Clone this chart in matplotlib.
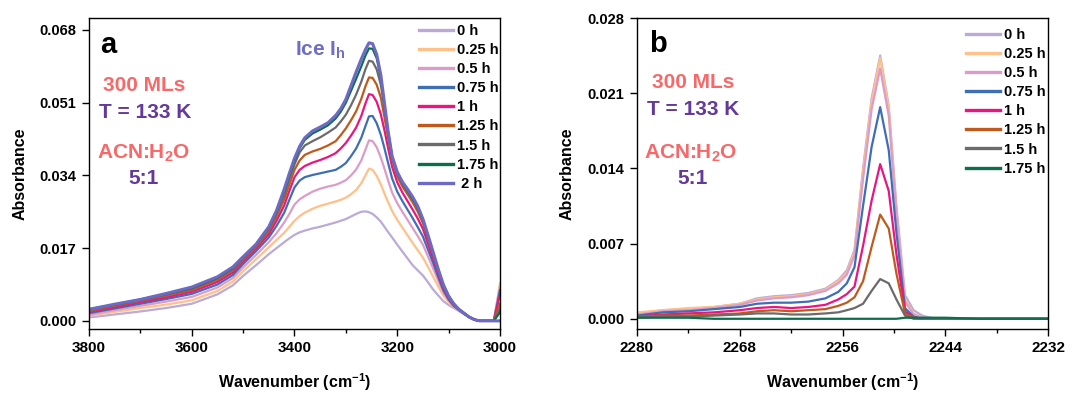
import matplotlib
matplotlib.use("Agg")
import matplotlib.pyplot as plt
import numpy as np

plt.rcParams['font.family'] = ['Liberation Sans', 'DejaVu Sans']
plt.rcParams['font.weight'] = 'bold'
plt.rcParams['axes.labelweight'] = 'bold'
plt.rcParams['mathtext.fontset'] = 'custom'
plt.rcParams['mathtext.rm'] = 'Liberation Sans:bold'
plt.rcParams['mathtext.it'] = 'Liberation Sans:bold'
plt.rcParams['mathtext.bf'] = 'Liberation Sans:bold'
plt.rcParams['mathtext.default'] = 'rm'

# ---------------- Panel a data (OH stretch region), absorbance x 1e-3 ----------------
wn_a = [3800, 3750, 3700, 3650, 3600, 3550, 3520, 3500, 3475, 3450, 3435, 3420, 3410,
        3400, 3390, 3380, 3365, 3350, 3335, 3320, 3310, 3300, 3290, 3280, 3270, 3262,
        3255, 3248, 3240, 3232, 3225, 3218, 3210, 3200, 3190, 3180, 3170, 3160, 3150,
        3140, 3130, 3120, 3110, 3100, 3090, 3080, 3070, 3060, 3050, 3040, 3012, 3006, 3000]
labels_a = ['0 h', '0.25 h', '0.5 h', '0.75 h', '1 h', '1.25 h', '1.5 h', '1.75 h', ' 2 h']
a_0h = [0.8, 1.5, 2.2, 3.0, 4.0, 6.2, 8.3, 10.5, 13.0, 15.6, 17.0, 18.4, 19.3,
        20.1, 20.7, 21.1, 21.6, 22.0, 22.5, 23.0, 23.4, 23.8, 24.4, 25.0, 25.5, 25.6,
        25.4, 25.0, 24.2, 23.2, 22.0, 20.8, 19.5, 17.8, 16.2, 14.6, 13.0, 11.8, 10.6,
        9.0, 7.3, 5.9, 4.6, 3.7, 3.0, 2.3, 1.6, 0.8, 0.3, 0.0, 0.0, 4.1, 8.3]
a_025h = [1.2, 2.1, 3.0, 3.8, 4.8, 7.0, 9.2, 11.6, 14.4, 17.2, 18.9, 20.6, 22.0,
          23.4, 24.5, 25.3, 26.2, 26.9, 27.4, 27.9, 28.3, 28.8, 29.6, 30.6, 32.2, 34.0,
          35.6, 35.3, 33.9, 31.9, 29.8, 27.8, 25.7, 23.6, 21.8, 20.0, 18.2, 16.5, 14.8,
          12.6, 10.3, 8.0, 5.9, 4.4, 3.3, 2.5, 1.7, 0.9, 0.3, 0.0, 0.0, 4.4, 8.8]
a_05h = [1.4, 2.5, 3.5, 4.5, 5.6, 7.8, 10.0, 12.5, 15.4, 18.4, 20.5, 23.0, 25.0,
         27.2, 28.4, 29.2, 30.2, 30.9, 31.4, 31.8, 32.3, 32.9, 34.0, 35.4, 37.5, 40.0,
         42.2, 42.0, 40.6, 38.2, 35.6, 32.9, 30.0, 27.5, 25.5, 23.6, 21.7, 19.8, 17.8,
         15.0, 12.2, 9.3, 6.6, 4.8, 3.4, 2.5, 1.7, 0.9, 0.3, 0.0, 0.0, 3.9, 7.8]
a_075h = [1.8, 2.9, 4.0, 5.1, 6.3, 8.5, 10.7, 13.3, 16.3, 19.5, 22.2, 25.3, 28.3,
          31.2, 32.8, 33.6, 34.1, 34.5, 34.9, 35.3, 36.0, 36.9, 38.5, 40.3, 42.8, 45.5,
          47.8, 47.9, 46.2, 43.5, 40.4, 37.0, 33.3, 30.2, 28.0, 26.0, 24.0, 21.9, 19.7,
          16.6, 13.5, 10.2, 7.1, 5.0, 3.5, 2.6, 1.7, 0.9, 0.3, 0.0, 0.0, 3.6, 7.2]
a_1h = [2.1, 3.2, 4.4, 5.5, 6.8, 9.1, 11.3, 13.9, 16.9, 20.3, 23.4, 27.0, 30.4,
        33.6, 35.3, 36.2, 37.0, 37.6, 38.3, 39.2, 40.3, 41.6, 43.3, 45.2, 47.9, 50.8,
        53.0, 52.8, 51.2, 48.3, 44.6, 40.5, 36.0, 32.4, 30.0, 28.0, 26.0, 23.9, 21.5,
        18.0, 14.6, 10.9, 7.6, 5.3, 3.7, 2.6, 1.7, 0.9, 0.3, 0.0, 0.0, 3.1, 6.2]
a_125h = [2.3, 3.5, 4.7, 5.9, 7.2, 9.6, 11.8, 14.3, 17.3, 21.0, 24.4, 28.4, 31.9,
          35.3, 37.5, 38.8, 39.6, 40.2, 41.0, 42.0, 43.4, 45.0, 46.9, 49.0, 51.9, 54.8,
          56.9, 56.8, 55.2, 52.2, 47.7, 42.8, 37.6, 33.8, 31.4, 29.6, 27.7, 25.5, 22.8,
          19.2, 15.5, 11.5, 8.1, 5.6, 3.8, 2.7, 1.8, 0.9, 0.3, 0.0, 0.0, 2.0, 4.0]
a_15h = [2.5, 3.7, 4.8, 6.1, 7.5, 9.9, 12.1, 14.6, 17.6, 21.5, 25.1, 29.6, 33.2,
         36.6, 39.4, 41.0, 42.0, 42.9, 44.0, 45.2, 46.6, 48.2, 50.4, 52.9, 55.9, 58.8,
         60.8, 60.6, 58.8, 55.2, 49.8, 44.0, 38.2, 34.4, 32.0, 30.2, 28.3, 26.2, 23.3,
         19.6, 15.8, 11.8, 8.2, 5.7, 3.9, 2.7, 1.8, 0.9, 0.3, 0.0, 0.0, 1.4, 2.8]
a_175h = [2.7, 3.8, 5.0, 6.3, 7.7, 10.1, 12.4, 14.9, 17.8, 21.9, 25.6, 30.4, 34.0,
          37.5, 40.4, 42.3, 43.8, 44.7, 45.7, 47.3, 48.9, 51.0, 53.8, 56.6, 59.5, 62.0,
          63.7, 63.6, 61.4, 56.8, 50.5, 44.3, 38.4, 34.7, 32.3, 30.6, 28.7, 26.5, 23.6,
          19.8, 15.9, 11.9, 8.3, 5.8, 4.0, 2.7, 1.8, 0.9, 0.3, 0.0, 0.0, 1.0, 2.0]
a_2h = [2.7, 3.9, 5.0, 6.4, 7.9, 10.3, 12.6, 15.0, 17.9, 22.0, 25.8, 30.8, 34.5,
        38.0, 40.8, 42.8, 44.4, 45.3, 46.3, 48.0, 49.6, 51.8, 55.0, 58.2, 61.2, 63.4,
        65.0, 64.8, 62.3, 57.5, 51.0, 44.5, 38.5, 34.8, 32.5, 30.8, 29.0, 26.8, 23.8,
        20.0, 16.0, 12.0, 8.4, 5.8, 4.0, 2.7, 1.8, 0.9, 0.3, 0.0, 0.0, 0.0, 0.0]
series_a = [a_0h, a_025h, a_05h, a_075h, a_1h, a_125h, a_15h, a_175h, a_2h]

# ---------------- Panel b data (CN stretch region), absorbance x 1e-3 ----------------
wn_b = [2280, 2277, 2274, 2271, 2268, 2266, 2264, 2262, 2260, 2258, 2256.5, 2255.5,
        2254.6, 2253.6, 2252.6, 2251.6, 2250.6, 2249.7, 2248.7, 2247.7, 2246.7, 2245.7,
        2244, 2240, 2236, 2232]
labels_b = ['0 h', '0.25 h', '0.5 h', '0.75 h', '1 h', '1.25 h', '1.5 h', '1.75 h']
b_0h = [0.5, 0.8, 0.9, 1.1, 1.4, 1.9, 2.1, 2.2, 2.4, 2.8, 3.6, 4.5,
        6.4, 14.0, 20.5, 24.5, 19.8, 10.5, 2.2, 0.8, 0.3, 0.1,
        0.0, 0.0, 0.0, 0.0]
b_025h = [0.6, 0.8, 1.0, 1.1, 1.4, 1.8, 2.0, 2.1, 2.3, 2.7, 3.5, 4.3,
          6.2, 13.7, 20.2, 24.3, 19.6, 10.0, 1.8, 0.5, 0.1, 0.0,
          0.0, 0.0, 0.0, 0.0]
b_05h = [0.4, 0.7, 0.8, 1.0, 1.3, 1.7, 1.9, 2.0, 2.2, 2.6, 3.3, 4.1,
         5.9, 13.0, 19.5, 23.3, 18.9, 9.7, 1.6, 0.4, 0.1, 0.0,
         0.0, 0.0, 0.0, 0.0]
b_075h = [0.3, 0.6, 0.7, 0.9, 1.1, 1.4, 1.5, 1.5, 1.6, 1.9, 2.5, 3.3,
          4.8, 10.5, 16.0, 19.7, 15.7, 8.0, 1.0, 0.2, 0.0, 0.0,
          0.0, 0.0, 0.0, 0.0]
b_1h = [0.2, 0.4, 0.5, 0.6, 0.8, 1.0, 1.1, 1.0, 1.1, 1.3, 1.8, 2.3,
        3.0, 6.8, 11.0, 14.4, 11.9, 6.0, 0.7, 0.1, 0.0, 0.0,
        0.0, 0.0, 0.0, 0.0]
b_125h = [0.2, 0.3, 0.3, 0.4, 0.5, 0.7, 0.8, 0.7, 0.8, 0.9, 1.2, 1.5,
          2.0, 3.5, 6.7, 9.7, 8.4, 4.2, 0.5, 0.1, 0.0, 0.0,
          0.0, 0.0, 0.0, 0.0]
b_15h = [0.1, 0.2, 0.2, 0.3, 0.4, 0.5, 0.5, 0.4, 0.4, 0.5, 0.6, 0.8,
         1.0, 1.4, 2.6, 3.7, 3.3, 1.8, 0.3, 0.0, 0.0, 0.0,
         0.0, 0.0, 0.0, 0.0]
b_175h = [0.1, 0.1, 0.1, 0.0, 0.0, 0.0, 0.0, 0.0, 0.0, 0.0, 0.0, 0.0,
          0.0, 0.0, 0.0, 0.0, 0.0, 0.0, 0.1, 0.1, 0.1, 0.1,
          0.1, 0.0, 0.0, 0.0]
series_b = [b_0h, b_025h, b_05h, b_075h, b_1h, b_125h, b_15h, b_175h]

colors = ['#bcaad6', '#ffc08a', '#dc9cc8', '#3e6eb6', '#ec1480', '#c05a1c',
          '#6b6b6b', '#0d6e4e', '#6c6ac4']

yt_a = [0.000, 0.017, 0.034, 0.051, 0.068]
yt_b = [0.000, 0.007, 0.014, 0.021, 0.028]
xt_a = [3800, 3600, 3400, 3200, 3000]
xt_b = [2280, 2268, 2256, 2244, 2232]

W, H = 1089, 394
fig = plt.figure(figsize=(W / 100, H / 100), dpi=100)

def box(l, t, r, b):
    return [l / W, 1 - b / H, (r - l) / W, (b - t) / H]

axA = fig.add_axes(box(89, 18, 500, 329))
axB = fig.add_axes(box(637, 18, 1048, 329))

for i, (s, lab) in enumerate(zip(series_a, labels_a)):
    lw = 2.2 if i == 8 else 1.6
    axA.plot(wn_a, np.array(s) / 1000.0, color=colors[i], lw=lw, label=lab)
for i, (s, lab) in enumerate(zip(series_b, labels_b)):
    axB.plot(wn_b, np.array(s) / 1000.0, color=colors[i], lw=1.6, label=lab)

axA.set_xlim(3800, 3000)
axA.set_ylim(-0.0019, 0.0708)
axB.set_xlim(2280, 2232)
axB.set_ylim(-0.00095, 0.028)

axA.set_xticks(xt_a)
axA.set_xticks(np.arange(3000, 3801, 100), minor=True)
axA.set_yticks(yt_a)
axB.set_xticks(xt_b)
axB.set_xticks(np.arange(2232, 2281, 6), minor=True)
axB.set_yticks(yt_b)

for ax in (axA, axB):
    ax.yaxis.set_major_formatter(matplotlib.ticker.FormatStrFormatter('%.3f'))
    ax.tick_params(axis='both', which='major', direction='out', length=5, width=1.0, pad=4)
    ax.tick_params(axis='x', which='major', labelsize=11)
    ax.tick_params(axis='y', which='major', labelsize=10.5)
    ax.tick_params(axis='x', which='minor', direction='out', length=3, width=1.0)
    ax.tick_params(axis='y', which='minor', left=False)
    for lab in ax.get_xticklabels() + ax.get_yticklabels():
        lab.set_fontweight('bold')
    for sp in ax.spines.values():
        sp.set_linewidth(1.0)
    ax.set_ylabel('Absorbance', fontsize=11.5, fontweight='bold')
    ax.set_xlabel('Wavenumber (cm$^{-1}$)', fontsize=11.5, fontweight='bold')
    ax.xaxis.set_label_coords(0.5, -0.135)
axA.yaxis.set_label_coords(-0.150, 0.5)
axB.yaxis.set_label_coords(-0.152, 0.5)

legA = axA.legend(loc='upper left', bbox_to_anchor=(0.803, 0.981), frameon=False,
                  borderpad=0, borderaxespad=0, handlelength=2.35, handletextpad=0.25,
                  labelspacing=0.35, prop={'weight': 'bold', 'size': 10.5})
legB = axB.legend(loc='upper left', bbox_to_anchor=(0.80, 0.968), frameon=False,
                  borderpad=0, borderaxespad=0, handlelength=2.35, handletextpad=0.25,
                  labelspacing=0.35, prop={'weight': 'bold', 'size': 10.5})
for leg in (legA, legB):
    for h in leg.get_lines():
        h.set_linewidth(2.4)

def ftext(px, py, s, color, size=15, ha='center'):
    fig.text(px / W, 1 - py / H, s, color=color, fontsize=size, fontweight='bold',
             ha=ha, va='baseline')

salmon = '#f86868'
purple = '#633a98'
slate = '#6f6ec6'

ftext(108, 53, 'a', 'black', size=21)
ftext(295, 56, 'Ice I$_h$', slate, size=15, ha='left')
ftext(144.5, 91, '300 MLs', salmon)
ftext(145, 118, 'T = 133 K', purple)
ftext(144, 159, 'ACN:H$_2$O', salmon)
ftext(144, 184, '5:1', purple)

ftext(658, 51.5, 'b', 'black', size=21)
ftext(693, 88.5, '300 MLs', salmon)
ftext(693, 115, 'T = 133 K', purple)
ftext(691, 158.5, 'ACN:H$_2$O', salmon)
ftext(692.5, 184, '5:1', purple)

fig.savefig('out.png', dpi=100)
